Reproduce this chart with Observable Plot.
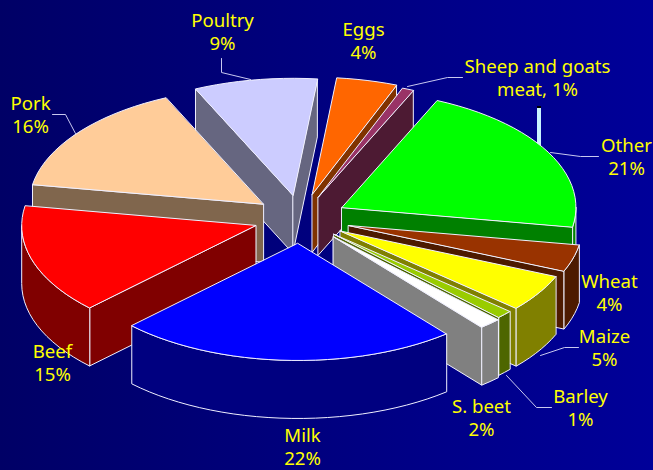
<!DOCTYPE html>
<html>
<head>
<meta charset="utf-8">
<script src="https://cdn.jsdelivr.net/npm/d3@7"></script>
<script src="https://cdn.jsdelivr.net/npm/@observablehq/plot@0.6"></script>
<style>html,body{margin:0;padding:0;background:#00007a}svg{display:block}</style>
</head>
<body>
<div id="chart"></div>
<script>
// Slices, clockwise from the first boundary
const categories = ["Other","Wheat","Maize","Barley","S. beet","Milk","Beef","Pork","Poultry","Eggs","Sheep and goats meat"];
const shares     = [21.0, 3.7, 5.1, 1.1, 1.5, 23.5, 15.1, 15.5, 8.5, 4.2, 0.8];
const topColors  = ["#00ff00","#993300","#ffff00","#99cc00","#ffffff","#0000ff","#ff0000","#ffcc99","#ccccff","#ff6600","#993366"];
const labelTexts = ["Other\n21%","Wheat\n4%","Maize\n5%","Barley\n1%","S. beet\n2%","Milk\n22%","Beef\n15%","Pork\n16%","Poultry\n9%","Eggs\n4%","Sheep and goats\nmeat, 1%"];
const explosion  = [47, 50, 47, 46, 49, 50, 47, 47, 47, 50, 46];
const paintOrder = ["Poultry","Eggs","Sheep and goats meat","Pork","Other","Beef","Wheat","Maize","Barley","S. beet","Milk"];
const labelX     = [626, 609, 604, 580, 481, 302, 52, 30, 222, 363, 537];
const labelY     = [156, 292, 347, 407, 417, 446, 362, 114, 31, 40, 77];

// Leader lines
const leaders = [
  [[221,58],[221,72],[250,79]],
  [[52,114],[65,114],[75,133]],
  [[407,86],[447,77],[462,77]],
  [[550,152],[580,156],[598,156]],
  [[540,355],[564,347],[578,347]],
  [[506,375],[536,407],[551,407]]
];

// Projection of the pie
const cx = 300, cy = 218, radius = 234, tilt = 0.5, depth = 58, startAngle = 66;
const rad = a => a * Math.PI / 180;
const sideColor = c => { const r = d3.rgb(c); return d3.rgb(r.r / 2, r.g / 2, r.b / 2).formatHex(); };

let cum = 0;
const slices = categories.map((name, i) => {
  const a0 = startAngle - cum * 3.6;
  cum += shares[i];
  const a1 = startAngle - cum * 3.6;
  const mid = (a0 + a1) / 2;
  const ax = cx + explosion[i] * Math.cos(rad(mid));
  const ay = cy - explosion[i] * tilt * Math.sin(rad(mid));
  return {name, a0, a1, ax, ay, color: topColors[i], side: sideColor(topColors[i])};
});

const rimPoint = (s, a, dz = 0) => ({
  x: s.ax + radius * Math.cos(rad(a)),
  y: s.ay - radius * tilt * Math.sin(rad(a)) + dz
});
const arc = (s, from, to, dz = 0) => {
  const n = Math.max(2, Math.ceil(Math.abs(from - to) / 3));
  return d3.range(n + 1).map(j => rimPoint(s, from + (to - from) * j / n, dz));
};

const polygons = [];
let pid = 0;
const addPolygon = (pts, fill) => { const id = pid++; pts.forEach(p => polygons.push({...p, id, fill})); };

for (const name of paintOrder) {
  const s = slices.find(d => d.name === name);
  const apex = {x: s.ax, y: s.ay}, apexLow = {x: s.ax, y: s.ay + depth};
  if (Math.cos(rad(s.a0)) < 0) {
    const p = rimPoint(s, s.a0), q = rimPoint(s, s.a0, depth);
    addPolygon([apex, p, q, apexLow], s.side);
  }
  if (Math.cos(rad(s.a1)) > 0) {
    const p = rimPoint(s, s.a1), q = rimPoint(s, s.a1, depth);
    addPolygon([apex, p, q, apexLow], s.side);
  }
  const from = Math.min(s.a0, 0), to = Math.max(s.a1, -180);
  if (from > to) addPolygon([...arc(s, from, to), ...arc(s, to, from, depth)], s.side);
  addPolygon([apex, ...arc(s, s.a0, s.a1)], s.color);
}

const labels = categories.map((c, i) => ({text: labelTexts[i], x: labelX[i], y: labelY[i]}));
const leaderPts = leaders.flatMap((l, i) => l.map(([x, y]) => ({x, y, i})));

const chart = Plot.plot({
  width: 653, height: 470,
  margin: 0,
  x: {domain: [0, 653], range: [0, 653], axis: null},
  y: {domain: [0, 470], range: [0, 470], axis: null},
  color: {type: "identity"},
  style: {background: "linear-gradient(90deg,#000066 0%,#000099 100%)", overflow: "hidden"},
  marks: [
    Plot.ruleX([538.5], {y1: 107, y2: 146, stroke: "#c8f4ff", strokeWidth: 4}),
    Plot.ruleX([538.5], {y1: 106, y2: 108, stroke: "#000000", strokeWidth: 4}),
    Plot.line(leaderPts, {x: "x", y: "y", z: "i", stroke: "#c8c8f0", strokeWidth: 1}),
    Plot.line(polygons, {x: "x", y: "y", z: "id", fill: "fill", stroke: "#f0f0ff", strokeWidth: 1, curve: "linear-closed", strokeLinejoin: "round"}),
    Plot.text(labels, {x: "x", y: "y", text: "text", fill: "#ffff00", fontSize: 18.6, lineHeight: 1.24, fontFamily: "Noto Sans", textAnchor: "middle"})
  ]
});
document.getElementById("chart").appendChild(chart);
</script>
</body>
</html>
